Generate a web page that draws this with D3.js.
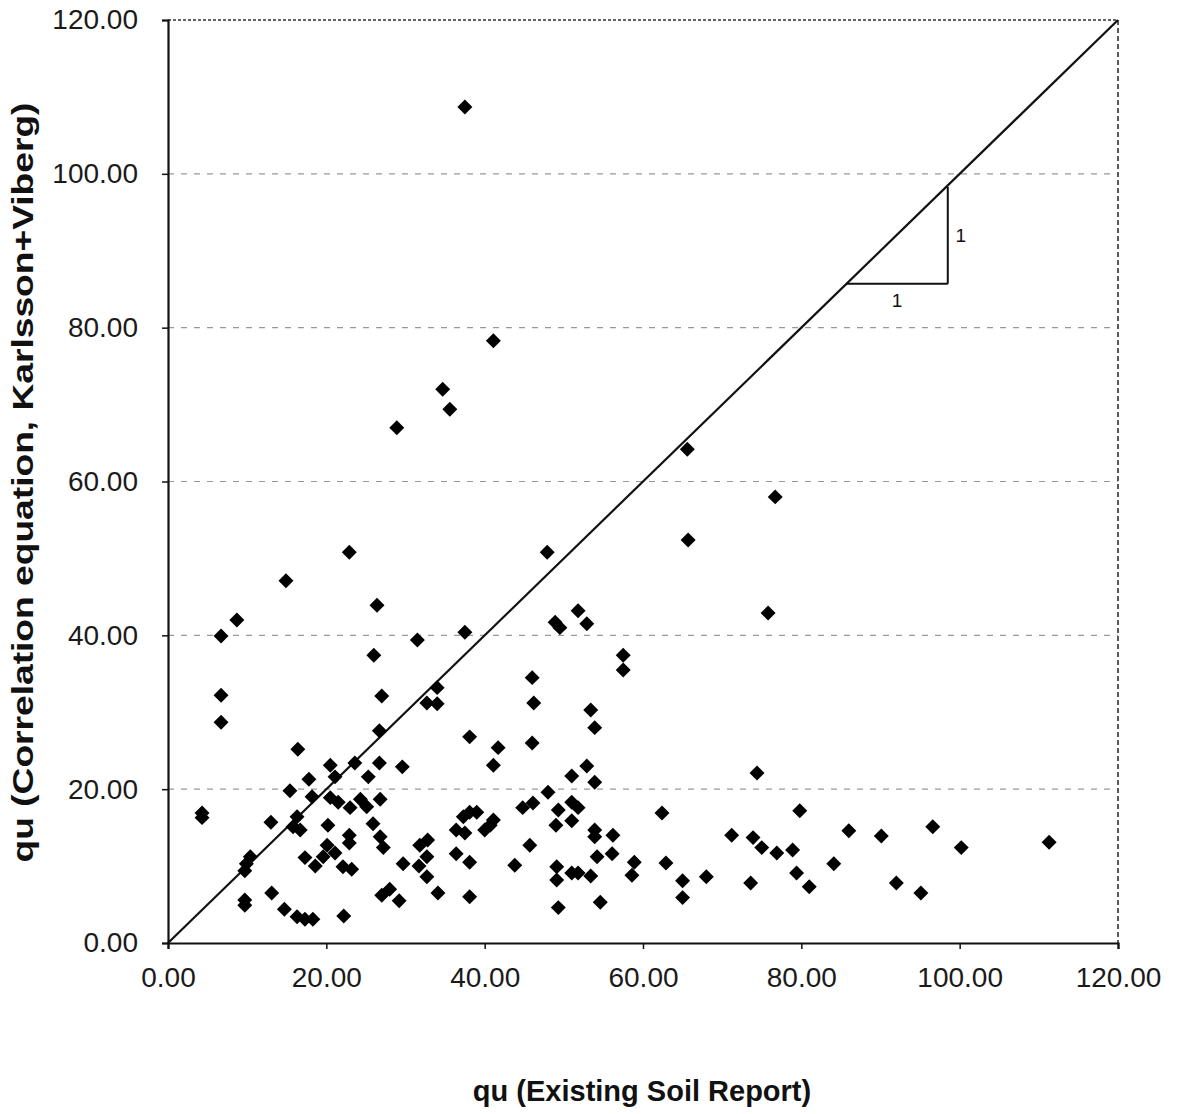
<!DOCTYPE html>
<html>
<head>
<meta charset="utf-8">
<script src="https://cdn.jsdelivr.net/npm/d3@7"></script>
<style>
  html, body { margin: 0; padding: 0; background: #fff; }
  svg { display: block; font-family: "Liberation Sans", Arial, sans-serif; }
</style>
</head>
<body>
<svg id="chart" width="1182" height="1114"></svg>
<script>
// qu measured in the existing soil report (x) vs qu from the correlation equation (y)
const quReport = [
  4.3, 4.3, 6.7, 6.7, 6.7, 8.7, 10.4, 9.9, 9.7, 9.7, 9.7,
  13.0, 13.1, 14.7, 14.9, 15.4, 16.3, 15.8, 16.7, 16.4, 16.3, 17.3, 18.3,
  17.3, 18.6, 17.8, 18.2,
  20.5, 23.6, 26.7, 29.6, 21.1, 25.3, 20.5, 21.5, 23.0, 24.3, 25.1, 26.8,
  20.2, 22.9, 22.9, 25.9, 26.8, 27.2, 20.1, 21.1, 19.6, 22.1, 23.2,
  27.0, 28.0, 29.2, 22.2, 22.9, 26.4, 26.0, 27.0, 26.7, 29.7,
  31.5, 34.0, 32.7, 34.0, 38.1, 37.5, 41.7, 41.1,
  31.8, 32.8, 32.7, 31.7, 32.7, 34.1, 38.1, 36.4, 37.3, 38.1, 39.0,
  37.5, 40.0, 41.1, 36.4, 38.1, 40.7,
  37.5, 41.1, 34.7, 35.6, 28.9, 43.8,
  46.0, 46.0, 46.2, 47.9, 51.8, 48.9, 49.5, 52.9, 57.5, 57.5, 53.4, 53.9,
  51.0, 52.9, 53.9, 48.0, 44.8, 46.1, 49.3, 51.0, 51.8, 49.0, 51.0,
  53.9, 53.9, 56.2, 54.2, 56.1, 45.7, 49.1, 49.1, 51.0, 51.8, 53.4,
  58.9, 58.6, 49.3, 54.6,
  65.6, 65.7, 76.7, 75.8, 74.4, 62.4, 79.8, 62.9, 65.0, 65.0, 68.0,
  71.2, 73.9, 75.0, 76.9, 78.9, 79.4, 81.0, 73.6, 84.1, 86.0, 90.1,
  92.0, 95.1, 96.6, 100.2, 111.3
];
const quCorrelation = [
  16.9, 16.3, 32.2, 28.7, 39.9, 42.0, 11.2, 10.3, 9.4, 5.6, 4.9,
  15.7, 6.5, 4.4, 47.1, 19.8, 16.4, 15.1, 14.7, 25.2, 3.4, 3.1, 3.1,
  11.1, 10.0, 21.3, 19.0,
  23.1, 23.4, 23.4, 22.9, 21.6, 21.6, 18.9, 18.3, 17.6, 18.7, 17.7, 18.7,
  15.3, 14.0, 13.0, 15.5, 13.8, 12.4, 12.7, 11.7, 11.2, 9.9, 9.6,
  6.2, 7.0, 5.5, 3.5, 50.8, 43.9, 37.4, 32.1, 27.6, 10.3,
  39.4, 33.2, 31.2, 31.1, 26.8, 40.4, 25.4, 23.1,
  12.7, 13.4, 11.2, 10.0, 8.6, 6.5, 6.0, 14.7, 16.4, 17.0, 17.0,
  14.3, 14.7, 16.0, 11.6, 10.5, 15.3,
  108.7, 78.3, 72.0, 69.4, 67.0, 10.1,
  26.0, 34.5, 31.2, 50.8, 43.2, 41.7, 41.0, 41.5, 37.4, 35.5, 30.3, 28.0,
  21.7, 23.0, 20.9, 19.6, 17.6, 18.2, 17.3, 18.3, 17.6, 15.3, 15.9,
  14.7, 13.8, 14.0, 11.2, 11.6, 12.7, 9.9, 8.2, 9.1, 9.1, 8.7,
  10.5, 8.8, 4.6, 5.3,
  64.2, 52.4, 58.0, 42.9, 22.1, 16.9, 17.2, 10.4, 8.1, 5.9, 8.6,
  14.0, 13.7, 12.4, 11.7, 12.1, 9.1, 7.3, 7.8, 10.3, 14.6, 13.9,
  7.8, 6.5, 15.1, 12.4, 13.1
];
const tickValues = [0, 20, 40, 60, 80, 100, 120];
// 1:1 slope marker drawn under the equality line
const slopeRun = [85.7, 98.5];
const slopeRise = [85.7, 98.3];
const slopeLabel = "1";
const xTitle = "qu (Existing Soil Report)";
const yTitle = "qu (Correlation equation, Karlsson+Viberg)";

const points = quReport.map((v, i) => ({ x: v, y: quCorrelation[i] }));

const svg = d3.select("#chart");
const plotLeft = 168, plotRight = 1118, plotTop = 20, plotBottom = 943;
const sans = "'Liberation Sans', Arial, sans-serif";

const x = d3.scaleLinear().domain([0, 120]).range([plotLeft, plotRight]);
const y = d3.scaleLinear().domain([0, 120]).range([plotBottom, plotTop]);

svg.append("rect").attr("width", 1182).attr("height", 1114).attr("fill", "#fff");

// horizontal gridlines
svg.append("g")
  .selectAll("line")
  .data(tickValues.filter(v => v > 0 && v < 120))
  .join("line")
  .attr("x1", plotLeft).attr("x2", plotRight)
  .attr("y1", d => y(d)).attr("y2", d => y(d))
  .attr("stroke", "#999").attr("stroke-width", 1.2)
  .attr("stroke-dasharray", "6,7");

// top and right edges of the plot area
svg.append("line")
  .attr("x1", plotLeft).attr("x2", plotRight).attr("y1", y(120)).attr("y2", y(120))
  .attr("stroke", "#333").attr("stroke-width", 1.6).attr("stroke-dasharray", "3,2");
svg.append("line")
  .attr("x1", plotRight).attr("x2", plotRight).attr("y1", y(120)).attr("y2", plotBottom)
  .attr("stroke", "#333").attr("stroke-width", 1.6).attr("stroke-dasharray", "5,3");

// axes
const fmt = d3.format(".2f");
const xAxis = svg.append("g")
  .attr("transform", `translate(0,${plotBottom})`)
  .call(d3.axisBottom(x).tickValues(tickValues).tickFormat(fmt).tickSize(6).tickPadding(18));
const yAxis = svg.append("g")
  .attr("transform", `translate(${plotLeft},0)`)
  .call(d3.axisLeft(y).tickValues(tickValues).tickFormat(fmt).tickSize(6).tickPadding(24));

[xAxis, yAxis].forEach(g => {
  g.attr("font-family", sans);
  g.select(".domain").attr("stroke", "#111").attr("stroke-width", 2.2);
  g.selectAll(".tick line").attr("stroke", "#111").attr("stroke-width", 1.5);
  g.selectAll(".tick text")
    .attr("fill", "#1a1a1a")
    .style("font-size", "28px")
    .style("font-family", sans);
});

// 1:1 line
svg.append("line")
  .attr("x1", x(0)).attr("y1", y(0)).attr("x2", x(120)).attr("y2", y(120))
  .attr("stroke", "#111").attr("stroke-width", 2.2);

// slope triangle
const tri = svg.append("g").attr("stroke", "#111").attr("stroke-width", 2).attr("fill", "none");
tri.append("line")
  .attr("x1", x(slopeRun[0])).attr("x2", x(slopeRun[1]))
  .attr("y1", y(slopeRise[0])).attr("y2", y(slopeRise[0]));
tri.append("line")
  .attr("x1", x(slopeRun[1])).attr("x2", x(slopeRun[1]))
  .attr("y1", y(slopeRise[0])).attr("y2", y(slopeRise[1]));
svg.append("text")
  .attr("x", x((slopeRun[0] + slopeRun[1]) / 2)).attr("y", y(slopeRise[0]) + 23)
  .attr("text-anchor", "middle")
  .style("font-size", "19px").style("font-family", sans).attr("fill", "#111")
  .text(slopeLabel);
svg.append("text")
  .attr("x", x(slopeRun[1]) + 13).attr("y", y((slopeRise[0] + slopeRise[1]) / 2) + 7)
  .attr("text-anchor", "middle")
  .style("font-size", "19px").style("font-family", sans).attr("fill", "#111")
  .text(slopeLabel);

// data markers: filled diamonds
const diamond = d3.symbol().type(d3.symbolSquare).size(112);
svg.append("g")
  .selectAll("path")
  .data(points)
  .join("path")
  .attr("d", diamond)
  .attr("transform", d => `translate(${x(d.x)},${y(d.y)}) rotate(45)`)
  .attr("fill", "#000");

// axis titles
svg.append("text")
  .attr("x", (plotLeft + plotRight) / 2 - 1).attr("y", 1101)
  .attr("text-anchor", "middle")
  .style("font-size", "29px").style("font-weight", "bold").style("font-family", sans)
  .attr("fill", "#111")
  .text(xTitle);
svg.append("text")
  .attr("transform", `translate(33,${(plotTop + plotBottom) / 2 + 1}) rotate(-90)`)
  .attr("text-anchor", "middle")
  .attr("textLength", 760).attr("lengthAdjust", "spacingAndGlyphs")
  .style("font-size", "29px").style("font-weight", "bold").style("font-family", sans)
  .attr("fill", "#111")
  .text(yTitle);
</script>
</body>
</html>
